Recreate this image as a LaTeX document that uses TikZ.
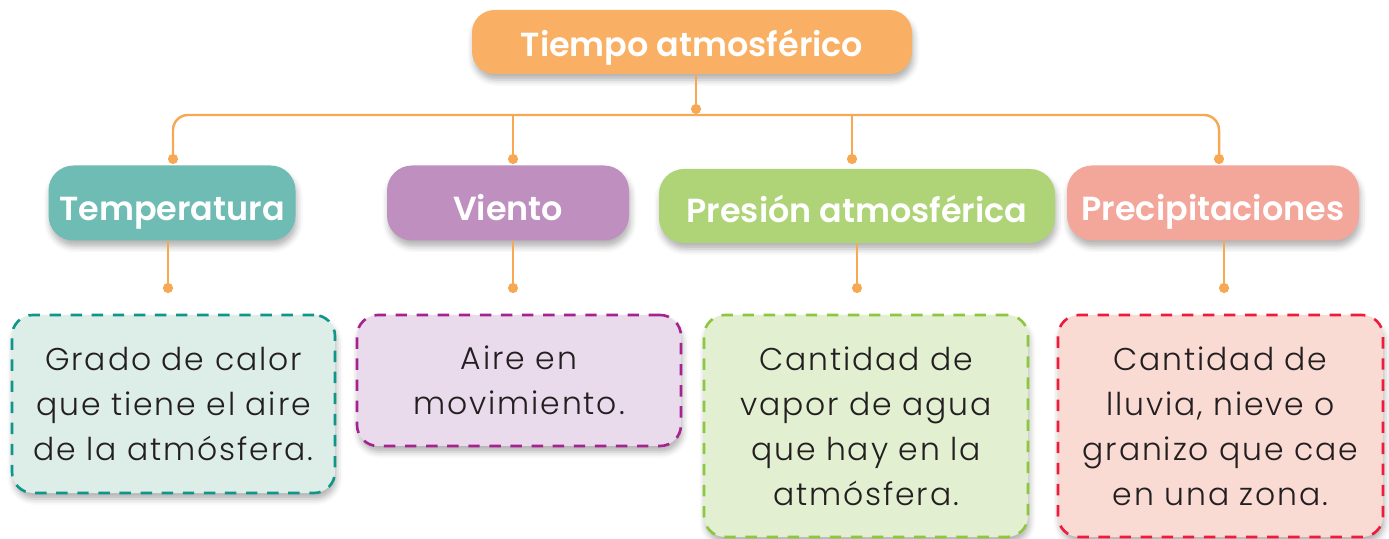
\documentclass[tikz,border=0pt]{standalone}
\usepackage{fontspec}
\setmainfont{Poppins}
\newfontfamily\headfont{Poppins SemiBold}
\newfontfamily\notefont{Poppins Light}[LetterSpace=6]
\usetikzlibrary{arrows.meta,shadows.blur}
\definecolor{tiempo}{HTML}{F9B064}
\definecolor{linea}{HTML}{F7A853}
\definecolor{tempfill}{HTML}{6FBCB5}
\definecolor{tempnote}{HTML}{DDEDE8}
\definecolor{tempdash}{HTML}{0F9688}
\definecolor{vientofill}{HTML}{BF8FC0}
\definecolor{vientonote}{HTML}{E9DBEC}
\definecolor{vientodash}{HTML}{A5238E}
\definecolor{presfill}{HTML}{AED477}
\definecolor{presnote}{HTML}{E2EFD1}
\definecolor{presdash}{HTML}{8DC63F}
\definecolor{precfill}{HTML}{F3A69A}
\definecolor{precnote}{HTML}{FADBD4}
\definecolor{precdash}{HTML}{EE1C3C}
\definecolor{texto}{HTML}{231F20}
\begin{document}
\begin{tikzpicture}[
    head/.style={rounded corners=0.5cm, minimum height=1.5cm, text=white,
      font=\fontsize{19}{24}\selectfont\headfont, align=center,
      text height=19.5pt, text depth=0pt,
      blur shadow={shadow xshift=0.3mm, shadow yshift=-1.2mm, shadow blur radius=1.2mm, shadow opacity=30}},
    note/.style={rounded corners=0.42cm, line width=1.5pt, dash pattern=on 6.5pt off 5.5pt,
      text=texto, font=\fontsize{17.9}{25.6}\selectfont\notefont, align=center,
      execute at begin node={\rule{0pt}{18pt}},
      blur shadow={shadow xshift=0.3mm, shadow yshift=-1.2mm, shadow blur radius=1.2mm, shadow opacity=30}},
    link/.style={draw=linea, line width=1.4pt, -{Circle[length=0.2cm]}}
]
\useasboundingbox (0,0) rectangle (27.78,-10.78);

% Main topic
\node[head, fill=tiempo, rounded corners=0.45cm, minimum width=8.8cm, minimum height=1.28cm, text height=17pt] (tiempo) at (13.84,-0.84) {Tiempo atmosférico};

% Factors
\node[head, fill=tempfill, minimum width=4.94cm] (temp) at (3.44,-4.06) {Temperatura};
\node[head, fill=vientofill, minimum width=4.84cm] (viento) at (10.16,-4.06) {Viento};
\node[head, fill=presfill, minimum width=7.92cm, minimum height=1.48cm, text height=18.5pt] (pres) at (17.14,-4.12) {Presión atmosférica};
\node[head, fill=precfill, minimum width=5.84cm] (prec) at (24.26,-4.06) {Precipitaciones};

% Descriptions
\node[note, draw=tempdash, fill=tempnote, minimum width=6.46cm, minimum height=3.56cm] (tempdef) at (3.47,-8.08)
  {Grado de calor\\que tiene el aire\\de la atmósfera.};
\node[note, draw=vientodash, fill=vientonote, minimum width=6.48cm, minimum height=2.62cm] (vientodef) at (10.38,-7.61)
  {Aire en\\movimiento.};
\node[note, draw=presdash, fill=presnote, minimum width=6.48cm, minimum height=4.44cm] (presdef) at (17.32,-8.52)
  {Cantidad de\\vapor de agua\\que hay en la\\atmósfera.};
\node[note, draw=precdash, fill=precnote, minimum width=6.5cm, minimum height=4.44cm] (precdef) at (24.41,-8.52)
  {Cantidad de\\lluvia, nieve o\\granizo que cae\\en una zona.};

% Connector ends
\coordinate (tiempodot) at (13.92,-2.28);
\coordinate (bus) at (0,-2.3);
\coordinate (tempdot) at (3.46,-3.28);
\coordinate (vientodot) at (10.26,-3.28);
\coordinate (presdot) at (17.04,-3.28);
\coordinate (precdot) at (24.38,-3.28);
\coordinate (tempend) at (3.36,-5.86);
\coordinate (vientoend) at (10.26,-5.86);
\coordinate (presend) at (17.14,-5.86);
\coordinate (precend) at (24.48,-5.86);

% Tree
\draw[link] (tiempodot |- tiempo.south) -- (tiempodot);
\draw[link, {Circle[length=0.2cm]}-{Circle[length=0.2cm]}, rounded corners=0.3cm]
  (tempdot) -- (tempdot |- bus) -- (precdot |- bus) -- (precdot);
\draw[link] (vientodot |- bus) -- (vientodot);
\draw[link] (presdot |- bus) -- (presdot);

% Stems below factors
\draw[link] (tempend |- temp.south) -- (tempend);
\draw[link] (vientoend |- viento.south) -- (vientoend);
\draw[link] (presend |- pres.south) -- (presend);
\draw[link] (precend |- prec.south) -- (precend);
\end{tikzpicture}
\end{document}
